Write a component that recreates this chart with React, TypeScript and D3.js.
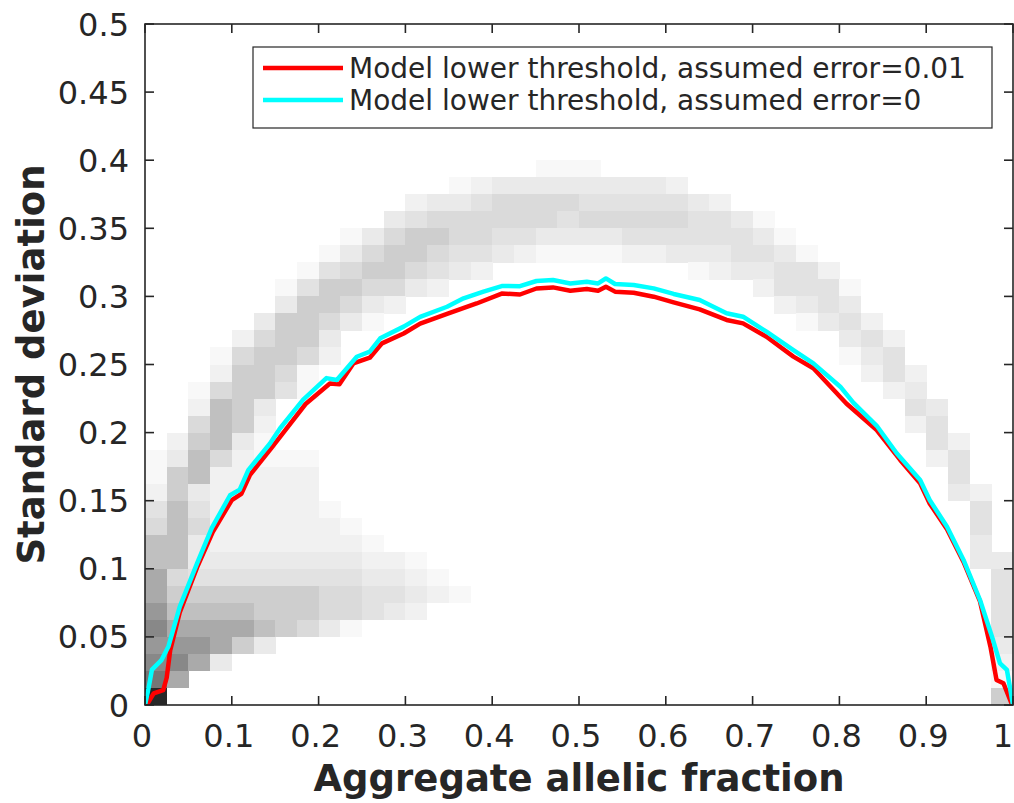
import React from "react";
import * as d3 from "d3";

// Figure geometry
const WIDTH = 1014;
const HEIGHT = 803;
const PLOT = { left: 145, right: 1013, top: 24, bottom: 705 };

// Axis ticks
const xTickValues = [0, 0.1, 0.2, 0.3, 0.4, 0.5, 0.6, 0.7, 0.8, 0.9, 1];
const xTickLabels = ["0", "0.1", "0.2", "0.3", "0.4", "0.5", "0.6", "0.7", "0.8", "0.9", "1"];
const yTickValues = [0, 0.05, 0.1, 0.15, 0.2, 0.25, 0.3, 0.35, 0.4, 0.45, 0.5];
const yTickLabels = ["0", "0.05", "0.1", "0.15", "0.2", "0.25", "0.3", "0.35", "0.4", "0.45", "0.5"];

// 2-D histogram bins (40 x 40 over [0,1] x [0,0.5])
const BIN_W = 0.025;
const BIN_H = 0.0125;

// Density runs: [row, first column, levels (hex digit per cell, 0 = empty)]
const densityRuns: [number, number, string][] = [
  [31, 18, "111"],
  [30, 14, "12333333332"],
  [29, 12, "233455554444432"],
  [28, 11, "345555554555554431"],
  [27, 9, "135665544333344444431"],
  [26, 8, "13566544321111223334431"],
  [25, 7, "145665432"],
  [25, 25, "1233442"],
  [24, 6, "14665532"],
  [24, 28, "24441"],
  [23, 6, "366532"],
  [23, 29, "2343"],
  [22, 5, "366531"],
  [22, 30, "1342"],
  [21, 4, "25663"],
  [21, 32, "342"],
  [20, 3, "156652"],
  [20, 32, "134"],
  [19, 3, "26651"],
  [19, 33, "242"],
  [18, 2, "156641"],
  [18, 34, "23"],
  [17, 2, "2763"],
  [17, 35, "43"],
  [16, 2, "5762"],
  [16, 35, "24"],
  [15, 1, "26731"],
  [15, 36, "42"],
  [14, 0, "13752111"],
  [14, 36, "24"],
  [13, 0, "16722222"],
  [13, 37, "4"],
  [12, 0, "26322222"],
  [12, 37, "32"],
  [11, 0, "474222221"],
  [11, 38, "4"],
  [10, 0, "5752222221"],
  [10, 38, "4"],
  [9, 0, "77322222221"],
  [9, 38, "3"],
  [8, 0, "7733333333221"],
  [8, 38, "33"],
  [7, 0, "85444444443321"],
  [7, 39, "4"],
  [6, 0, "866666665544321"],
  [6, 39, "4"],
  [5, 0, "9777766655432"],
  [5, 39, "4"],
  [4, 0, "A888876531"],
  [4, 39, "4"],
  [3, 0, "999863"],
  [3, 39, "3"],
  [2, 0, "AA83"],
  [2, 39, "2"],
  [1, 0, "B8"],
  [1, 39, "1"],
  [0, 0, "C"],
  [0, 39, "6"],
];

// Gray value for each density level
const levelGray = [255, 248, 241, 234, 226, 218, 206, 192, 170, 152, 136, 118, 40];

// Model lower threshold, assumed error = 0.01
const errorHundredth: [number, number][] = [
  [0.002, 0.0], [0.01, 0.0086], [0.021, 0.011], [0.025, 0.02], [0.029, 0.04],
  [0.04, 0.068], [0.06, 0.101], [0.078, 0.127], [0.1, 0.1505], [0.111, 0.155],
  [0.121, 0.169], [0.146, 0.189], [0.163, 0.203], [0.185, 0.221], [0.213, 0.236],
  [0.224, 0.2355], [0.24, 0.2508], [0.259, 0.255], [0.273, 0.2655], [0.298, 0.2728],
  [0.317, 0.28], [0.348, 0.2871], [0.382, 0.2948], [0.411, 0.3021], [0.432, 0.3014],
  [0.451, 0.3058], [0.47, 0.3066], [0.49, 0.3042], [0.509, 0.3054], [0.522, 0.3042],
  [0.531, 0.3071], [0.5415, 0.3035], [0.563, 0.3027], [0.586, 0.2998], [0.609, 0.2956],
  [0.639, 0.2905], [0.67, 0.2827], [0.689, 0.2802], [0.716, 0.2704], [0.747, 0.2558],
  [0.77, 0.2472], [0.808, 0.2214], [0.843, 0.2019], [0.87, 0.1799], [0.893, 0.1628],
  [0.904, 0.148], [0.924, 0.129], [0.943, 0.105], [0.962, 0.076], [0.974, 0.0428],
  [0.981, 0.0184], [0.989, 0.016], [0.999, 0.0],
];

// Model lower threshold, assumed error = 0
const errorZero: [number, number][] = [
  [0.0, 0.0], [0.004, 0.012], [0.008, 0.026], [0.019, 0.033], [0.027, 0.043],
  [0.04, 0.072], [0.06, 0.104], [0.077, 0.13], [0.098, 0.154], [0.109, 0.158],
  [0.119, 0.1725], [0.144, 0.192], [0.1555, 0.203], [0.182, 0.224], [0.209, 0.24],
  [0.221, 0.2386], [0.244, 0.2557], [0.259, 0.2594], [0.271, 0.2692], [0.298, 0.2778],
  [0.317, 0.285], [0.348, 0.2924], [0.367, 0.2986], [0.39, 0.3035], [0.411, 0.3076],
  [0.432, 0.3075], [0.451, 0.3113], [0.47, 0.312], [0.49, 0.3095], [0.509, 0.3108],
  [0.522, 0.3095], [0.531, 0.3132], [0.5415, 0.3091], [0.563, 0.3084], [0.586, 0.3059],
  [0.609, 0.3018], [0.639, 0.2974], [0.67, 0.2876], [0.689, 0.2851], [0.716, 0.2741],
  [0.747, 0.2606], [0.77, 0.2508], [0.801, 0.2337], [0.816, 0.222], [0.843, 0.205],
  [0.866, 0.1848], [0.893, 0.1652], [0.904, 0.1505], [0.924, 0.1309], [0.943, 0.1065],
  [0.962, 0.0771], [0.977, 0.0477], [0.985, 0.0306], [0.993, 0.0257], [1.0, 0.0],
];

const seriesNames = [
  "Model lower threshold, assumed error=0.01",
  "Model lower threshold, assumed error=0",
];
const seriesColors = ["#ff0000", "#00ffff"];

const AXIS_COLOR = "#262626";
const FONT = "'DejaVu Sans', sans-serif";

export default function App() {
  const x = d3.scaleLinear().domain([0, 1]).range([PLOT.left, PLOT.right]);
  const y = d3.scaleLinear().domain([0, 0.5]).range([PLOT.bottom, PLOT.top]);

  const cells: { key: string; x0: number; x1: number; y0: number; y1: number; level: number }[] = [];
  densityRuns.forEach(([row, start, levels]) => {
    levels.split("").forEach((ch, k) => {
      const level = parseInt(ch, 16);
      if (!level) return;
      const col = start + k;
      cells.push({
        key: `${row}-${col}`,
        x0: x(col * BIN_W),
        x1: x((col + 1) * BIN_W),
        y0: y((row + 1) * BIN_H),
        y1: y(row * BIN_H),
        level,
      });
    });
  });

  const line = d3
    .line<[number, number]>()
    .x((d) => x(d[0]))
    .y((d) => y(d[1]))
    .curve(d3.curveLinear);

  const tickLen = 9;
  // keep the outermost x labels inside the figure edges
  const xLabelPos = (v: number) => Math.min(Math.max(x(v) - 3, 137), 1003);

  return (
    <svg
      width={WIDTH}
      height={HEIGHT}
      style={{ position: "absolute", left: 0, top: 0, background: "#fff" }}
    >
      <defs>
        <clipPath id="plot-clip">
          <rect x={PLOT.left} y={PLOT.top} width={PLOT.right - PLOT.left} height={PLOT.bottom - PLOT.top} />
        </clipPath>
      </defs>
      <rect x={0} y={0} width={WIDTH} height={HEIGHT} fill="#fff" />

      {/* density histogram */}
      <g clipPath="url(#plot-clip)" shapeRendering="crispEdges">
        {cells.map((c) => {
          const g = levelGray[c.level];
          return (
            <rect
              key={c.key}
              x={c.x0}
              y={c.y0}
              width={c.x1 - c.x0 + 0.3}
              height={c.y1 - c.y0 + 0.3}
              fill={d3.rgb(g, g, g).formatHex()}
            />
          );
        })}
      </g>

      {/* model thresholds */}
      <g clipPath="url(#plot-clip)" fill="none" strokeLinejoin="round" strokeLinecap="round">
        <path d={line(errorHundredth) || ""} stroke={seriesColors[0]} strokeWidth={4.5} />
        <path d={line(errorZero) || ""} stroke={seriesColors[1]} strokeWidth={4.5} />
      </g>

      {/* axes box and ticks */}
      <g stroke={AXIS_COLOR} strokeWidth={1.6} fill="none">
        <rect x={PLOT.left} y={PLOT.top} width={PLOT.right - PLOT.left} height={PLOT.bottom - PLOT.top} />
        {xTickValues.map((v) => (
          <g key={`xt${v}`}>
            <line x1={x(v)} x2={x(v)} y1={PLOT.bottom} y2={PLOT.bottom - tickLen} />
            <line x1={x(v)} x2={x(v)} y1={PLOT.top} y2={PLOT.top + tickLen} />
          </g>
        ))}
        {yTickValues.map((v) => (
          <g key={`yt${v}`}>
            <line x1={PLOT.left} x2={PLOT.left + tickLen} y1={y(v)} y2={y(v)} />
            <line x1={PLOT.right} x2={PLOT.right - tickLen} y1={y(v)} y2={y(v)} />
          </g>
        ))}
      </g>

      {/* tick labels */}
      <g fill={AXIS_COLOR} fontFamily={FONT} fontSize={32}>
        {xTickValues.map((v, i) => (
          <text key={`xl${v}`} x={xLabelPos(v)} y={747} textAnchor="middle">
            {xTickLabels[i]}
          </text>
        ))}
        {yTickValues.map((v, i) => (
          <text key={`yl${v}`} x={129} y={y(v)} dy="0.36em" textAnchor="end">
            {yTickLabels[i]}
          </text>
        ))}
      </g>

      {/* axis titles */}
      <text
        x={(PLOT.left + PLOT.right) / 2}
        y={791}
        textAnchor="middle"
        fontFamily={FONT}
        fontWeight="bold"
        fontSize={37}
        fill={AXIS_COLOR}
      >
        Aggregate allelic fraction
      </text>
      <text
        transform={`translate(44, ${(PLOT.top + PLOT.bottom) / 2}) rotate(-90)`}
        textAnchor="middle"
        fontFamily={FONT}
        fontWeight="bold"
        fontSize={37}
        fill={AXIS_COLOR}
      >
        Standard deviation
      </text>

      {/* legend */}
      <g>
        <rect x={253} y={47} width={739} height={81} fill="#fff" stroke={AXIS_COLOR} strokeWidth={1.2} />
        {seriesNames.map((name, i) => (
          <g key={name}>
            <line x1={263} x2={343} y1={68 + i * 32} y2={68 + i * 32} stroke={seriesColors[i]} strokeWidth={4.5} />
            <text x={349} y={68 + i * 32} dy="0.36em" fontFamily={FONT} fontSize={28} fill={AXIS_COLOR}>
              {name}
            </text>
          </g>
        ))}
      </g>
    </svg>
  );
}
